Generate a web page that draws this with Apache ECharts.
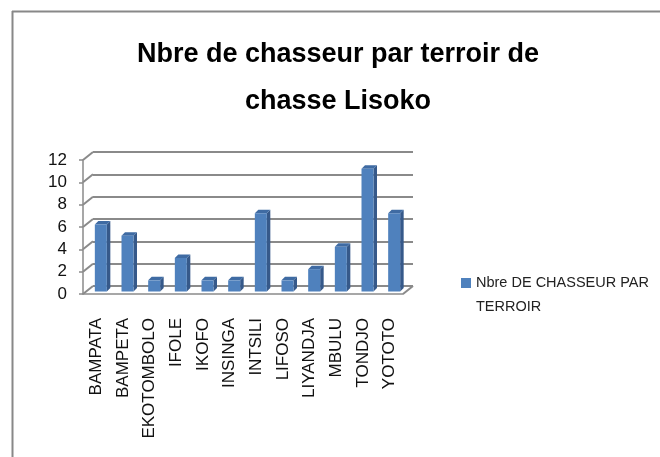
<!DOCTYPE html>
<html><head><meta charset="utf-8">
<script src="https://cdn.jsdelivr.net/npm/echarts@6/dist/echarts.min.js"></script>
<style>html,body{margin:0;padding:0;background:#fff}#c{width:660px;height:457px}</style>
</head><body><div id="c"></div>
<script>
const categories = ['BAMPATA','BAMPETA','EKOTOMBOLO','IFOLE','IKOFO','INSINGA','INTSILI','LIFOSO','LIYANDJA','MBULU','TONDJO','YOTOTO'];
const values = [6,5,1,3,1,1,7,1,2,4,11,7];
const yTicks = [0,2,4,6,8,10,12];
const seriesName = 'Nbre DE CHASSEUR PAR TERROIR';
const titleText = 'Nbre de chasseur par terroir de\nchasse Lisoko';

const DX = 10, DY = -8;
const GRAY = '#8a8a8a';
const chart = echarts.init(document.getElementById('c'));
chart.setOption({
  animation:false,
  title:{text:titleText,left:333,textAlign:'center',top:26,
    textStyle:{fontFamily:'Liberation Sans',fontWeight:'bold',fontSize:27,lineHeight:47,color:'#000'}},
  legend:{data:[seriesName],left:456,top:266,itemWidth:10,itemHeight:34,
    icon:'path://M0,0H10V10H0Z M0,33.99H0.01V34H0Z',
    formatter:n=>n.replace(' TERROIR','\nTERROIR'),
    textStyle:{fontFamily:'Liberation Sans',fontSize:14.5,lineHeight:24,color:'#222'}},
  graphic:[
    {type:'line',shape:{x1:12,y1:11.5,x2:660,y2:11.5},style:{stroke:'#888',lineWidth:2},z:100},
    {type:'line',shape:{x1:12.5,y1:11,x2:12.5,y2:457},style:{stroke:'#888',lineWidth:2},z:100}
  ],
  grid:[
    {left:83,top:160,width:320,height:134},
    {left:83+DX,top:160+DY,width:320,height:134}
  ],
  xAxis:[
    {type:'category',data:categories,gridIndex:0,
      axisLine:{lineStyle:{color:GRAY,width:1.5}},
      axisTick:{length:9,lineStyle:{color:GRAY,width:1.5}},
      axisLabel:{rotate:90,margin:24,fontFamily:'Liberation Sans',fontSize:17,color:'#111',interval:0}},
    {type:'category',data:categories,gridIndex:1,show:false}
  ],
  yAxis:[
    {type:'value',gridIndex:0,min:0,max:12,interval:2,
      axisLine:{show:true,lineStyle:{color:GRAY,width:1.5}},
      axisTick:{show:true,length:4,lineStyle:{color:GRAY,width:1.5}},
      splitLine:{show:false},
      axisLabel:{margin:16,fontFamily:'Liberation Sans',fontSize:17,color:'#111'}},
    {type:'value',gridIndex:1,min:0,max:12,interval:2,
      axisLine:{show:false},axisTick:{show:false},axisLabel:{show:false},
      splitLine:{show:true,lineStyle:{color:GRAY,width:2}}}
  ],
  series:[
    {type:'custom',name:'walls',xAxisIndex:0,yAxisIndex:0,silent:true,z:1,
      data:yTicks.map(v=>[0,v]),
      renderItem:(params,api)=>{
        const v=api.value(1);
        const c=api.coord([0,v]);
        const w=api.size([1,0])[0];
        const x0=c[0]-w/2;
        const children=[{type:'line',shape:{x1:x0,y1:c[1],x2:x0+DX,y2:c[1]+DY},style:{stroke:GRAY,lineWidth:2}}];
        if(v===0){
          const xr=x0+w*categories.length;
          children.push({type:'line',shape:{x1:xr,y1:c[1],x2:xr+DX,y2:c[1]+DY},style:{stroke:GRAY,lineWidth:2}});
        }
        return {type:'group',children};
      }},
    {type:'custom',name:seriesName,xAxisIndex:0,yAxisIndex:0,z:5,
      itemStyle:{color:'#4f81bd'},
      data:values.map((v,i)=>[i,v]),
      renderItem:(params,api)=>{
        const top=api.coord([api.value(0),api.value(1)]);
        const base=api.coord([api.value(0),0]);
        const sx=4.5, sy=-2.5, bw=12, d=3.5;
        const xl=top[0]+sx-bw/2, xr=xl+bw;
        const yt=top[1]+sy, yb=base[1]+sy;
        return {type:'group',children:[
          {type:'polygon',shape:{points:[[xr,yt],[xr+d,yt-d],[xr+d,yb-d],[xr,yb]]},style:{fill:'#36598a'}},
          {type:'polygon',shape:{points:[[xl,yt],[xl+d,yt-d],[xr+d,yt-d],[xr,yt]]},style:{fill:'#3f6ba3'}},
          {type:'rect',shape:{x:xl,y:yt,width:bw,height:yb-yt},style:{fill:'#4f81bd'}}
        ]};
      }}
  ]
});
</script></body></html>
